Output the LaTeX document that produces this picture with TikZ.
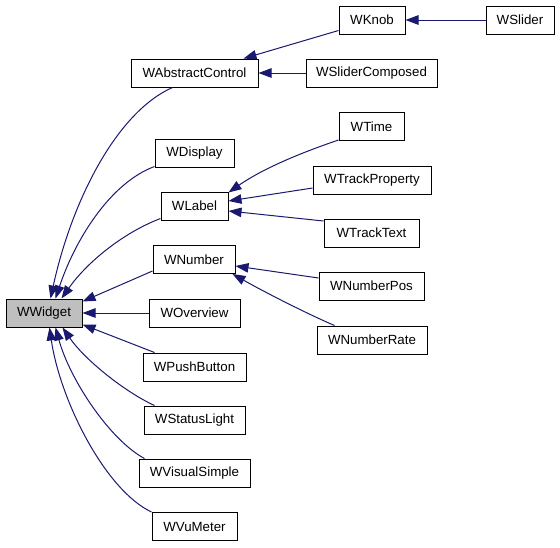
\documentclass[tikz,border=0pt]{standalone}
\usepackage{fontspec}
\setmainfont{Liberation Sans}
\usetikzlibrary{arrows.meta,calc}
\definecolor{edgeblue}{HTML}{191970}
\definecolor{basegray}{HTML}{BFBFBF}
\begin{document}
\begin{tikzpicture}[x=1pt,y=-1pt,
  box/.style={draw=black, line width=1pt, inner sep=0pt, minimum height=28pt,
    font=\fontsize{13.3}{16}\selectfont},
  edge/.style={draw=edgeblue, line width=1pt, -{Triangle[length=13pt,width=9.5pt]}, fill=none},
]
\useasboundingbox (0,0) rectangle (560,547);
% nodes
\node[box, fill=basegray, minimum width=76pt] (ww) at (44,313) {WWidget};
\node[box, minimum width=127pt] (wac) at (194.5,73) {WAbstractControl};
\node[box, minimum width=79pt] (wdisp) at (194.5,153) {WDisplay};
\node[box, minimum width=67pt] (wlab) at (194.5,206) {WLabel};
\node[box, minimum width=82pt] (wnum) at (194,259.5) {WNumber};
\node[box, minimum width=91pt] (wov) at (194.5,313) {WOverview};
\node[box, minimum width=103pt] (wpb) at (194.5,367) {WPushButton};
\node[box, minimum width=101pt] (wsl) at (194.5,420) {WStatusLight};
\node[box, minimum width=111pt] (wvs) at (194.5,473) {WVisualSimple};
\node[box, minimum width=85pt] (wvu) at (194.5,526.5) {WVuMeter};
\node[box, minimum width=66pt] (wknob) at (372,20) {WKnob};
\node[box, minimum width=68pt] (wslider) at (520,20) {WSlider};
\node[box, minimum width=131pt] (wsc) at (371.5,73) {WSliderComposed};
\node[box, minimum width=65pt] (wtime) at (371.5,126.5) {WTime};
\node[box, minimum width=118pt] (wtp) at (372,180) {WTrackProperty};
\node[box, minimum width=95pt] (wtt) at (371.5,233) {WTrackText};
\node[box, minimum width=105pt] (wnp) at (371.5,286) {WNumberPos};
\node[box, minimum width=110pt] (wnr) at (372,340) {WNumberRate};
% edges to WWidget
\draw[edge] ($(wac.south west)+(42,0)$) .. controls (117,112) and (72,200) .. ($(ww.north west)+(45,0)$);
\draw[edge] ($(wdisp.south west)+(0,-1)$) .. controls (110,183) and (75,240) .. ($(ww.north west)+(50,0)$);
\draw[edge] ($(wlab.south west)+(0,-2)$) .. controls (120,234) and (85,265) .. ($(ww.north west)+(56,0)$);
\draw[edge] ($(wnum.south west)+(0,-3)$) -- ($(ww.north east)+(0,3)$);
\draw[edge] (wov.west) -- (ww.east);
\draw[edge] ($(wpb.north west)+(12,0)$) -- ($(ww.south east)+(0,-3)$);
\draw[edge] ($(wsl.north west)+(11,0)$) .. controls (125,392) and (85,360) .. ($(ww.south west)+(57,0)$);
\draw[edge] ($(wvs.north west)+(6,0)$) .. controls (110,440) and (70,380) .. ($(ww.south west)+(50,0)$);
\draw[edge] (wvu.north west) .. controls (105,490) and (60,400) .. ($(ww.south west)+(44,0)$);
% edges to WAbstractControl, WKnob
\draw[edge] ($(wknob.south west)+(0,-4)$) -- ($(wac.north east)+(-15,0)$);
\draw[edge] (wsc.west) -- (wac.east);
\draw[edge] (wslider.west) -- (wknob.east);
% edges to WLabel
\draw[edge] ($(wtime.south west)+(0,-1)$) .. controls (315,148) and (268,165) .. ($(wlab.north east)+(0,1)$);
\draw[edge] ($(wtp.west)+(0,8)$) -- ($(wlab.east)+(0,-5)$);
\draw[edge] ($(wtt.west)+(0,-12)$) -- ($(wlab.east)+(0,5)$);
% edges to WNumber
\draw[edge] ($(wnp.west)+(0,-8)$) -- ($(wnum.east)+(0,6.5)$);
\draw[edge] ($(wnr.north west)+(18,0)$) .. controls (310,315) and (270,295) .. ($(wnum.south east)+(-3,0)$);
\end{tikzpicture}
\end{document}
